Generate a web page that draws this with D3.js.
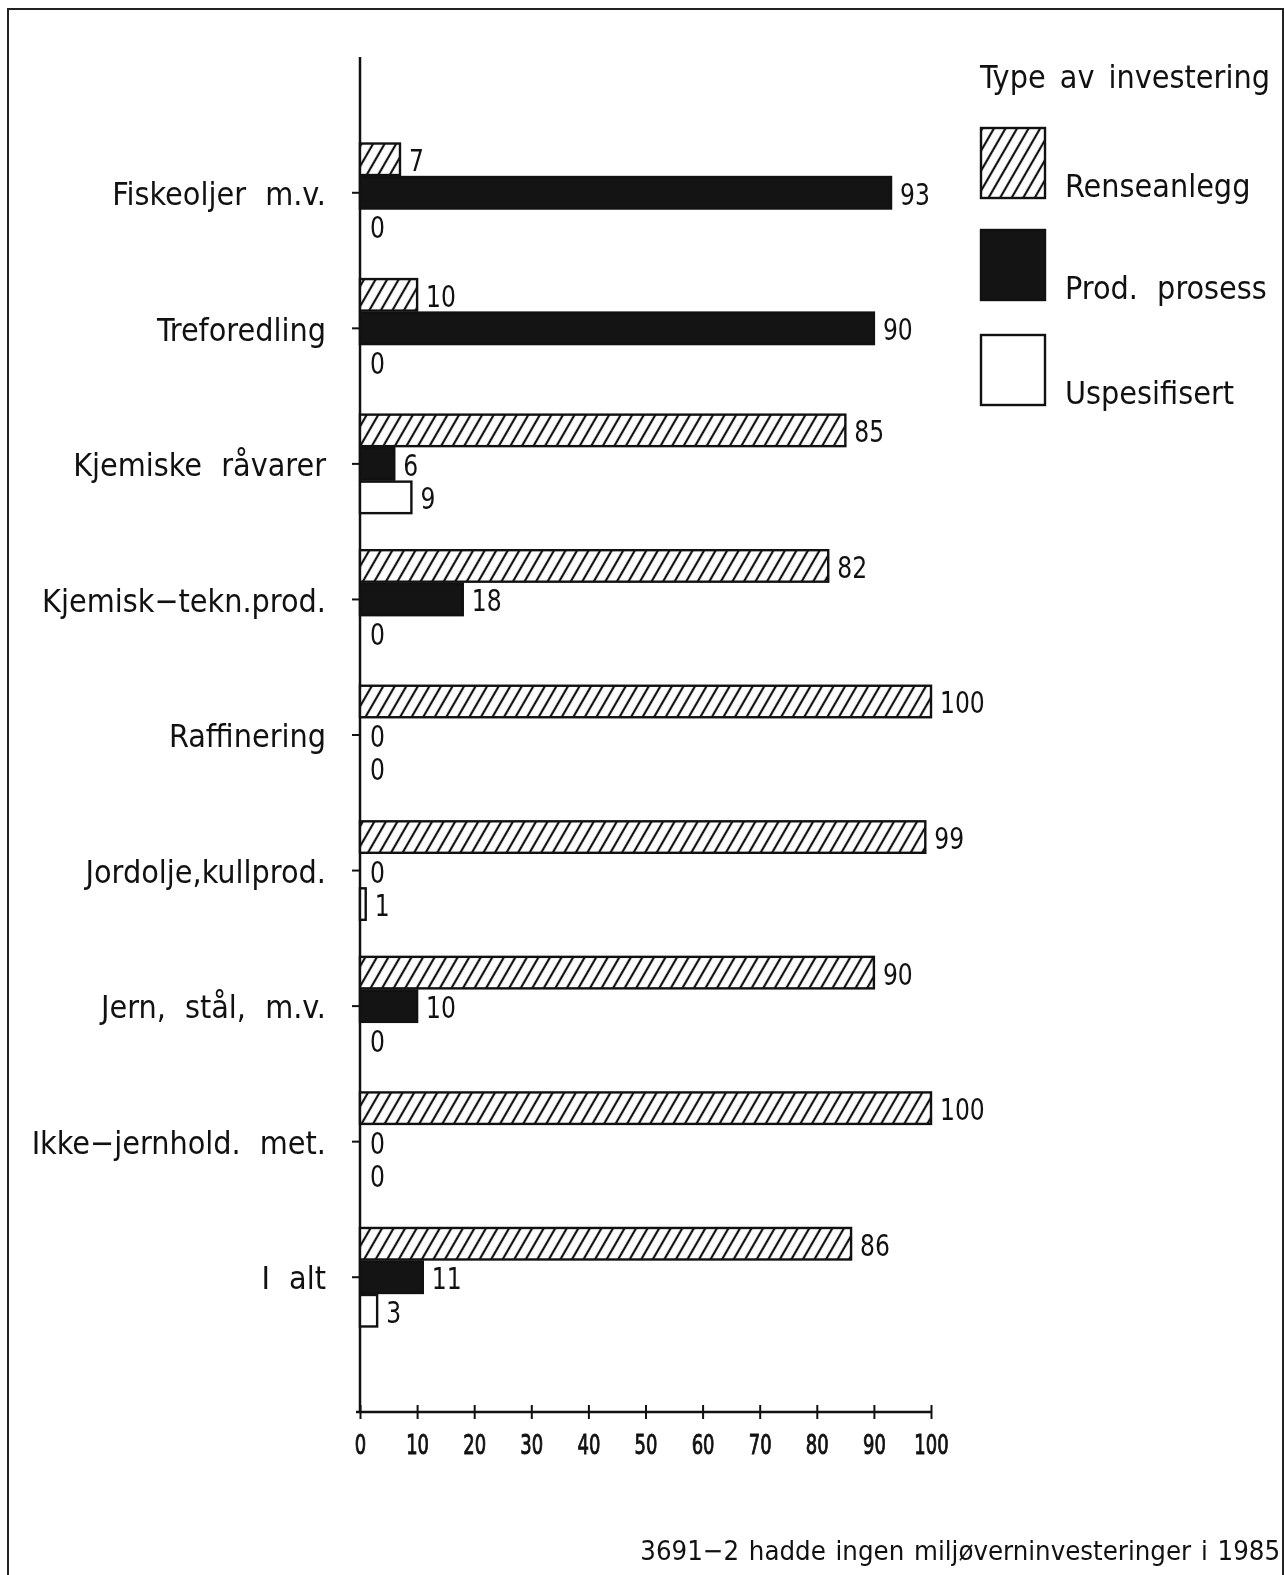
<!DOCTYPE html>
<html><head><meta charset="utf-8">
<script src="https://cdn.jsdelivr.net/npm/d3@7"></script>
<style>html,body{margin:0;padding:0;background:#fff;overflow:hidden;width:100%;height:100%}svg{display:block;position:fixed;left:0;top:0}text{font-family:"DejaVu Sans Condensed","DejaVu Sans",sans-serif;fill:#111}</style>
</head><body>
<script>
const categories = ["Fiskeoljer m.v.","Treforedling","Kjemiske råvarer","Kjemisk\u2212tekn.prod.","Raffinering","Jordolje,kullprod.","Jern, stål, m.v.","Ikke\u2212jernhold. met.","I alt"];
const renseanlegg = [7,10,85,82,100,99,90,100,86];
const prodProsess = [93,90,6,18,0,0,10,0,11];
const uspesifisert = [0,0,9,0,0,1,0,0,3];
const seriesNames = ["Renseanlegg","Prod. prosess","Uspesifisert"];
const xTicks = [0,10,20,30,40,50,60,70,80,90,100];
const legendTitle = "Type av investering";
const footnote = "3691\u22122 hadde ingen miljøverninvesteringer i 1985";

const W=1285,H=1575;
const svg=d3.select("body").append("svg").attr("viewBox",`0 0 ${W} ${H}`)
  .attr("width","100vw").attr("height","100vh").attr("preserveAspectRatio","none");
const defs=svg.append("defs");
const pat=defs.append("pattern").attr("id","hatch").attr("patternUnits","userSpaceOnUse")
  .attr("width",10).attr("height",10).attr("patternTransform","rotate(30)");
pat.append("rect").attr("width",10).attr("height",10).attr("fill","#fff");
pat.append("line").attr("x1",5).attr("x2",5).attr("y1",-1).attr("y2",11).attr("stroke","#111").attr("stroke-width",2.2);
const fills=["url(#hatch)","#141414","#fff"];

// frame
svg.append("path").attr("d","M8,1575 L8,9 L1283,9 L1283,1575").attr("fill","none").attr("stroke","#222").attr("stroke-width",2);

const x=d3.scaleLinear().domain([0,100]).range([360,931]);
const y=d3.scaleBand().domain(categories).range([125,1345]);
const barH=33.5;

// x axis
const xa=svg.append("g").attr("transform","translate(0,1412)")
 .call(d3.axisBottom(x).tickValues(xTicks).tickSizeInner(7).tickSizeOuter(0).tickPadding(16));
xa.select(".domain").attr("stroke","#111").attr("stroke-width",2.5).attr("d","M356,0H931");
xa.selectAll(".tick line").attr("stroke","#111").attr("stroke-width",2).attr("y1",-7).attr("y2",7);
xa.selectAll(".tick text").attr("font-size",27).attr("fill","#111")
  .attr("stroke","#111").attr("stroke-width",0.9)
  .style("font-family","DejaVu Sans Condensed").attr("transform","scale(0.74,1)");

// y axis
const ya=svg.append("g").attr("transform","translate(360,0)")
 .call(d3.axisLeft(y).tickSizeInner(8).tickSizeOuter(0).tickPadding(26));
ya.select(".domain").attr("stroke","#111").attr("stroke-width",2.5).attr("d","M0,57V1413");
ya.selectAll(".tick line").attr("stroke","#111").attr("stroke-width",2);
ya.selectAll(".tick text").attr("font-size",32).attr("fill","#111").attr("dy","0.38em")
  .style("font-family","DejaVu Sans Condensed").style("word-spacing","10px");

const series=[renseanlegg,prodProsess,uspesifisert];
series.forEach((vals,si)=>{
  const g=svg.append("g");
  categories.forEach((c,i)=>{
    const v=vals[i];
    const cy=y(c)+y.bandwidth()/2;
    const top=cy-barH*1.5+si*barH;
    if(v>0){
      g.append("rect").attr("x",x(0)).attr("y",top+1).attr("width",x(v)-x(0)).attr("height",barH-2)
       .attr("fill",fills[si]).attr("stroke","#111").attr("stroke-width",2.4);
    }
    g.append("text").attr("transform",`translate(${x(v)+(v>0?9:10)},${top+barH/2+1}) scale(0.9,1.05)`)
     .attr("dy","0.36em").attr("font-size",29).text(v);
  });
});

// legend
svg.append("text").attr("x",980).attr("y",88).attr("font-size",32).style("word-spacing","5px").text(legendTitle);
const ly=[128,230,335];
seriesNames.forEach((n,i)=>{
  svg.append("rect").attr("x",981).attr("y",ly[i]).attr("width",64).attr("height",70)
   .attr("fill",fills[i]).attr("stroke","#111").attr("stroke-width",2.4);
  svg.append("text").attr("x",1065).attr("y",ly[i]+69).attr("font-size",32).style("word-spacing","10px").text(n);
});

svg.append("text").attr("x",1280).attr("y",1560).attr("text-anchor","end").attr("font-size",27.3).style("word-spacing","2px").text(footnote);
</script>
</body></html>
